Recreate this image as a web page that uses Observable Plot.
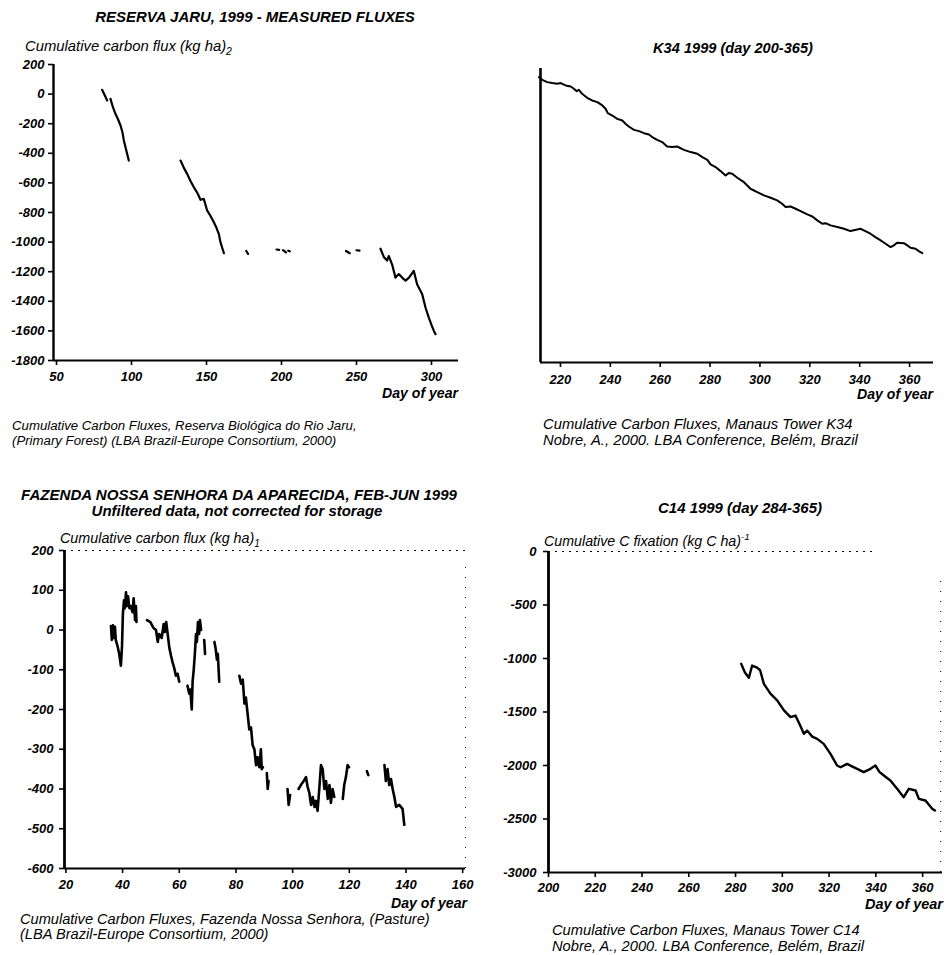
<!DOCTYPE html>
<html><head><meta charset="utf-8">
<script src="https://cdn.jsdelivr.net/npm/d3@7"></script>
<script src="https://cdn.jsdelivr.net/npm/@observablehq/plot@0.6"></script>
<style>
html,body{margin:0;padding:0;background:#fff;}
body{width:947px;height:955px;position:relative;overflow:hidden;font-family:"Liberation Sans",Arial,sans-serif;}
.t{position:absolute;white-space:nowrap;font-style:italic;color:#000;line-height:1;}
.b{font-weight:bold;}
sub,sup{font-size:70%;line-height:0;}
svg text{font-family:"Liberation Sans",Arial,sans-serif;font-style:italic;font-weight:bold;font-size:13px;}
</style></head><body>
<script>
// ---------- DATA ----------
// Panel 1: Reserva Jaru (null = gap in record)
const jaruDay  = [80.4, 82, 83.8, null, 86, 87.5, 89.3, 91, 92.7, 94, 94.9, 96.5, 98.2, null,
  132.7, 135, 137.1, 139.5, 141.6, 144, 146, 148.2, 150.4, 152.5, 154.9, 156.5, 158.2, 159.3, 160.5, 161.6, null,
  176.5, 177.7, null, 196.7, 198.4, null, 201, 203, null, 204.5, 205.5, null, 243, 245.5, null, 250, 252, null,
  266, 268.2, 270.4, 271.5, 273.7, 276, 278.2, 280.4, 282.7, 285, 288.2, 290.4, 293.8, 296, 298.2, 300, 301.6, 302.7];
const jaruFlux = [29, -5, -43, null, -32, -85, -133, -170, -212, -260, -313, -380, -449, null,
  -449, -500, -539, -590, -629, -670, -714, -708, -786, -820, -866, -900, -944, -1000, -1040, -1075, null,
  -1060, -1080, null, -1050, -1052, null, -1055, -1070, null, -1058, -1062, null, -1060, -1075, null, -1055, -1057, null,
  -1045, -1100, -1125, -1094, -1150, -1240, -1216, -1240, -1260, -1240, -1195, -1285, -1352, -1442, -1510, -1560, -1600, -1622];

// Panel 2: K34 (source shows no y labels; values in kg C/ha, estimated)
const k34Day  = [211.4, 212.7, 214.7, 216.7, 218.7, 220.1, 222.1, 224.1, 225.4, 226.5, 227.4, 228.7, 230.7, 232.7, 234.8, 236.8,
  238.1, 239.0, 240.8, 242.8, 244.8, 246.1, 247.4, 249.5, 251.5, 253.5, 255.5, 256.8, 258.8, 260.8, 262.8, 264.8, 266.8,
  269.5, 272.2, 274.9, 276.9, 278.9, 280.2, 282.2, 284.2, 286.2, 287.5, 288.9, 290.9, 293.6, 296.2, 298.9, 301.6, 304.3,
  306.9, 308.9, 310.3, 312.3, 314.3, 316.3, 319.0, 321.0, 323.0, 325.0, 326.3, 328.3, 331.0, 333.7, 336.3, 339.0, 340.3,
  342.3, 344.3, 346.3, 348.4, 350.4, 352.4, 353.7, 355.0, 357.7, 359.1, 360.4, 362.4, 363.7, 365.1];
const k34Flux = [-88, -116, -139, -149, -156, -149, -173, -184, -207, -231, -217, -258, -299, -326, -343, -377,
  -411, -456, -480, -514, -530, -564, -592, -626, -639, -660, -673, -700, -728, -751, -796, -802, -796,
  -830, -853, -870, -904, -932, -979, -1006, -1047, -1091, -1067, -1074, -1115, -1160, -1227, -1261, -1295, -1319,
  -1346, -1380, -1414, -1408, -1431, -1455, -1489, -1510, -1550, -1584, -1578, -1601, -1618, -1635, -1659, -1642, -1635,
  -1659, -1686, -1720, -1754, -1788, -1822, -1805, -1778, -1782, -1805, -1829, -1839, -1863, -1884];

// Panel 3: Fazenda Nossa Senhora
const fazDay  = [35.9, 36.2, 36.6, 36.9, 37.3, 37.6, 38.2, 38.8, 39.4, 39.8, 40.1, 40.5, 40.8, 41.2, 41.5, 41.9, 42.4, 42.9, 43.5, 43.9, 44.4, 44.7, 44.9, null,
  48.6, 49.8, 50.9, 51.8, 52.4, 52.9, 53.8, 54.5, 54.9, 55.4, 55.9, 56.5, 57.1, 57.6, 58.2, 58.8, 59.4, 60.0, null,
  62.9, 63.5, 63.9, 64.4, 64.7, 65.1, 65.5, 65.9, 66.2, 66.6, 67.0, 67.3, 67.7, null,
  68.8, 69.1, null, 72.4, 72.8, 73.3, 73.6, 74.1, null,
  81.2, 81.8, 82.4, 83.0, 83.5, 84.1, 84.7, 85.3, 85.9, 86.5, 87.1, 87.6, 88.2, 88.8, 89.1, 89.5, null,
  90.9, 91.2, 91.5, null, 98.2, 98.6, 99.1, null,
  102.1, 102.9, 103.9, 104.7, 105.3, 105.9, 106.5, 107.1, 107.7, 108.2, 108.8, 109.4, 110.0, 110.6, 111.2, 111.8, 112.4, 113.0, 113.5, 114.1, 114.7, null,
  117.7, 118.2, 118.8, 119.4, 119.9, null, 126.2, 126.7, null,
  132.4, 132.9, 133.5, 134.1, 134.7, 135.3, 135.9, 136.5, 137.6, 138.8, 139.4];
const fazFlux = [10, -25, 12, -20, 8, -25, -40, -60, -90, -40, 40, 75, 55, 95, 60, 85, 55, 60, 45, 80, 25, 60, 20, null,
  25, 20, 5, 0, -30, -10, -20, 15, -5, 20, -10, -45, -65, -80, -95, -115, -110, -130, null,
  -140, -160, -150, -200, -130, -100, -60, -10, -30, 20, -10, 25, 0, null,
  -25, -60, null, -30, -45, -75, -60, -130, null,
  -115, -135, -125, -185, -170, -210, -250, -245, -290, -300, -340, -320, -345, -300, -350, -345, null,
  -360, -400, -380, null, -400, -440, -415, null,
  -400, -390, -380, -370, -395, -410, -440, -420, -445, -430, -455, -400, -340, -350, -400, -380, -425, -390, -435, -400, -420, null,
  -425, -390, -370, -340, -345, null, -355, -365, null,
  -340, -380, -350, -390, -375, -400, -420, -445, -440, -450, -490];

// Panel 4: C14
const c14Day  = [282.4, 284.0, 285.7, 287.1, 289.2, 290.5, 292.1, 295.0, 297.8, 300.7, 303.5, 305.6, 307.5, 309.2, 310.6, 312.8, 314.9, 317.7,
  320.6, 323.4, 324.9, 327.7, 330.0, 332.0, 334.8, 337.7, 339.8, 341.5, 343.4, 346.2, 349.1, 351.9, 354.1, 357.0, 358.4, 361.2, 364.1, 365.3];
const c14Flux = [-1050, -1130, -1180, -1066, -1085, -1110, -1237, -1330, -1392, -1485, -1548, -1533, -1620, -1704, -1673, -1730, -1751, -1798,
  -1891, -2000, -2016, -1985, -2010, -2031, -2062, -2031, -2000, -2060, -2093, -2140, -2218, -2296, -2218, -2234, -2312, -2327, -2405, -2420];

// Tick labels
const jaruXTicks = [50, 100, 150, 200, 250, 300];
const jaruYTicks = [200, 0, -200, -400, -600, -800, -1000, -1200, -1400, -1600, -1800];
const k34XTicks  = [220, 240, 260, 280, 300, 320, 340, 360];
const fazXTicks  = [20, 40, 60, 80, 100, 120, 140, 160];
const fazYTicks  = [200, 100, 0, -100, -200, -300, -400, -500, -600];
const c14XTicks  = [200, 220, 240, 260, 280, 300, 320, 340, 360];
const c14YTicks  = [0, -500, -1000, -1500, -2000, -2500, -3000];

// ---------- helpers ----------
const zip = (xs, ys) => xs.map((d, i) => ({day: d, v: ys[i]}));
const fmt = d => String(d);
const baseStyle = {background: "transparent", overflow: "visible", color: "#000"};

// one root SVG holding the four Plot charts as nested SVGs
const NS = "http://www.w3.org/2000/svg";
const root = document.createElementNS(NS, "svg");
root.setAttribute("width", 947);
root.setAttribute("height", 955);
root.setAttribute("style", "position:absolute;left:0;top:0;overflow:visible;color:#000;");
document.body.appendChild(root);

function place(svg, left, top) {
  const w = svg.getAttribute("width"), h = svg.getAttribute("height");
  svg.removeAttribute("class");          // drop Plot's "height:auto" rule (would stretch a nested svg)
  svg.setAttribute("x", left);
  svg.setAttribute("y", top);
  svg.setAttribute("preserveAspectRatio", "xMinYMin meet");
  svg.setAttribute("style", `overflow:visible;color:#000;width:${w}px;height:${h}px;`);
  root.appendChild(svg);
}

function txt(html, x, y, {w = null, anchor = "start", bold = false, size = 12} = {}) {
  const d = document.createElement("div");
  d.className = "t" + (bold ? " b" : "");
  d.innerHTML = html;
  d.style.fontSize = size + "px";
  d.style.left = "0px"; d.style.top = "0px";
  document.body.appendChild(d);
  if (w) {
    const m = d.getBoundingClientRect().width;
    size = size * w / m;
    d.style.fontSize = size + "px";
  }
  return finish(d, x, y, size, anchor, null);
}
function finish(d, x, y, size, anchor, lh) {
  if (lh) d.style.lineHeight = lh + "px";
  const width = d.getBoundingClientRect().width;
  const left = anchor === "middle" ? x - width / 2 : anchor === "end" ? x - width : x;
  d.style.left = left + "px";
  d.style.top = (lh ? y - lh / 2 : y - size * 0.52) + "px";
  return size;
}
// two-line caption block: font fitted to the first line's width
function caption(l1, l2, x, y, w, lh) {
  const d = document.createElement("div");
  d.className = "t";
  d.style.fontSize = "12px";
  d.style.left = "0px"; d.style.top = "0px";
  d.innerHTML = l1;
  document.body.appendChild(d);
  const size = 12 * w / d.getBoundingClientRect().width;
  d.style.fontSize = size + "px";
  d.innerHTML = l1 + "<br>" + l2;
  finish(d, x, y, size, "start", lh);
}

// ---------- Panel 1: Reserva Jaru ----------
const jaruX = [48, 318], jaruY = [-1800, 200];
place(Plot.plot({
  width: 470, height: 400, marginLeft: 53, marginRight: 12, marginTop: 64, marginBottom: 40,
  x: {domain: jaruX}, y: {domain: jaruY}, style: baseStyle,
  marks: [
    Plot.axisX({ticks: jaruXTicks, tickFormat: fmt, tickSize: 5, tickPadding: 6, label: null, stroke: "#000", strokeWidth: 1.6}),
    Plot.axisY({ticks: jaruYTicks, tickFormat: fmt, tickSize: 5, tickPadding: 4, label: null, stroke: "#000", strokeWidth: 1.6}),
    Plot.ruleY([jaruY[0]], {stroke: "#000", strokeWidth: 2}),
    Plot.ruleX([jaruX[0]], {stroke: "#000", strokeWidth: 2.4}),
    Plot.line(zip(jaruDay, jaruFlux), {x: "day", y: "v", strokeWidth: 2.2, stroke: "#000"})
  ]
}), 0, 0);

// ---------- Panel 2: K34 ----------
const k34X = [212, 369.6], k34Y = [-3000, 0];
place(Plot.plot({
  width: 477, height: 400, marginLeft: 70, marginRight: 14, marginTop: 68, marginBottom: 38,
  x: {domain: k34X}, y: {domain: k34Y, axis: null}, style: baseStyle,
  marks: [
    Plot.axisX({ticks: k34XTicks, tickFormat: fmt, tickSize: 5, tickPadding: 7, label: null, stroke: "#000", strokeWidth: 1.6}),
    Plot.ruleY([k34Y[0]], {stroke: "#000", strokeWidth: 2}),
    Plot.ruleX([k34X[0]], {stroke: "#000", strokeWidth: 2.6}),
    Plot.line(zip(k34Day, k34Flux), {x: "day", y: "v", strokeWidth: 2, stroke: "#000"})
  ]
}), 470, 0);

// ---------- Panel 3: Fazenda ----------
const fazX = [19.5, 161], fazY = [-600, 200];
place(Plot.plot({
  width: 470, height: 485, marginLeft: 64, marginRight: 5, marginTop: 80, marginBottom: 87,
  x: {domain: fazX}, y: {domain: fazY}, style: baseStyle,
  marks: [
    Plot.axisX({ticks: fazXTicks, tickFormat: fmt, tickSize: 5, tickPadding: 6, label: null, stroke: "#000", strokeWidth: 1.6}),
    Plot.axisY({ticks: fazYTicks, tickFormat: fmt, tickSize: 5, tickPadding: 6, label: null, stroke: "#000", strokeWidth: 1.6}),
    Plot.ruleY([fazY[1]], {stroke: "#000", strokeWidth: 1.2, strokeDasharray: "2,5"}),
    Plot.ruleX([fazX[1]], {y1: fazY[0], y2: 170, stroke: "#000", strokeWidth: 1, strokeDasharray: "1,9"}),
    Plot.ruleY([fazY[0]], {stroke: "#000", strokeWidth: 2}),
    Plot.ruleX([fazX[0]], {stroke: "#000", strokeWidth: 2.8}),
    Plot.line(zip(fazDay, fazFlux), {x: "day", y: "v", strokeWidth: 2.6, stroke: "#000"})
  ]
}), 0, 470);

// ---------- Panel 4: C14 ----------
const c14X = [200, 368.5], c14Y = [-3000, 0], c14TopEnd = 340;
place(Plot.plot({
  width: 477, height: 485, marginLeft: 78, marginRight: 5, marginTop: 81, marginBottom: 83,
  x: {domain: c14X}, y: {domain: c14Y}, style: baseStyle,
  marks: [
    Plot.axisX({ticks: c14XTicks, tickFormat: fmt, tickSize: 5, tickPadding: 5, label: null, stroke: "#000", strokeWidth: 1.6}),
    Plot.axisY({ticks: c14YTicks, tickFormat: fmt, tickSize: 5, tickPadding: 7, label: null, stroke: "#000", strokeWidth: 1.6}),
    Plot.ruleY([c14Y[1]], {x1: c14X[0], x2: c14TopEnd, stroke: "#000", strokeWidth: 1.2, strokeDasharray: "2,5"}),
    Plot.ruleX([c14X[1] - 0.8], {y1: c14Y[0], y2: -250, stroke: "#000", strokeWidth: 1, strokeDasharray: "1,9"}),
    Plot.ruleY([c14Y[0]], {stroke: "#000", strokeWidth: 2}),
    Plot.ruleX([c14X[0]], {stroke: "#000", strokeWidth: 2.8}),
    Plot.line(zip(c14Day, c14Flux), {x: "day", y: "v", strokeWidth: 2.4, stroke: "#000"})
  ]
}), 470, 470);

// ---------- Texts ----------
// Panel 1
txt("RESERVA JARU, 1999 - MEASURED FLUXES", 255, 17, {w: 320, anchor: "middle", bold: true});
txt("Cumulative carbon flux (kg ha)<sub>2</sub>", 25, 47, {w: 207});
txt("Day of year", 458, 393, {w: 76, anchor: "end", bold: true});
caption("Cumulative Carbon Fluxes, Reserva Biológica do Rio Jaru,",
        "(Primary Forest) (LBA Brazil-Europe Consortium, 2000)", 12, 425, 345, 15);

// Panel 2
txt("K34 1999 (day 200-365)", 733, 49, {w: 160, anchor: "middle", bold: true});
txt("Day of year", 933, 394, {w: 76, anchor: "end", bold: true});
caption("Cumulative Carbon Fluxes, Manaus Tower K34",
        "Nobre, A., 2000. LBA Conference, Belém, Brazil", 543, 424, 310, 16);

// Panel 3
txt("FAZENDA NOSSA SENHORA DA APARECIDA, FEB-JUN 1999", 239, 495, {w: 436, anchor: "middle", bold: true});
txt("Unfiltered data, not corrected for storage", 237, 512, {w: 291, anchor: "middle", bold: true});
txt("Cumulative carbon flux (kg ha)<sub>1</sub>", 60, 538, {w: 200});
txt("Day of year", 467, 903, {w: 76, anchor: "end", bold: true});
caption("Cumulative Carbon Fluxes, Fazenda Nossa Senhora, (Pasture)",
        "(LBA Brazil-Europe Consortium, 2000)", 20, 919, 410, 15);

// Panel 4
txt("C14 1999 (day 284-365)", 740, 509, {w: 164, anchor: "middle", bold: true});
txt("Cumulative C fixation (kg C ha)<sup>-1</sup>", 544, 541, {w: 206});
txt("Day of year", 943, 905, {w: 78, anchor: "end", bold: true});
caption("Cumulative Carbon Fluxes, Manaus Tower C14",
        "Nobre, A., 2000. LBA Conference, Belém, Brazil", 552, 930, 308, 16);
</script>
</body></html>
